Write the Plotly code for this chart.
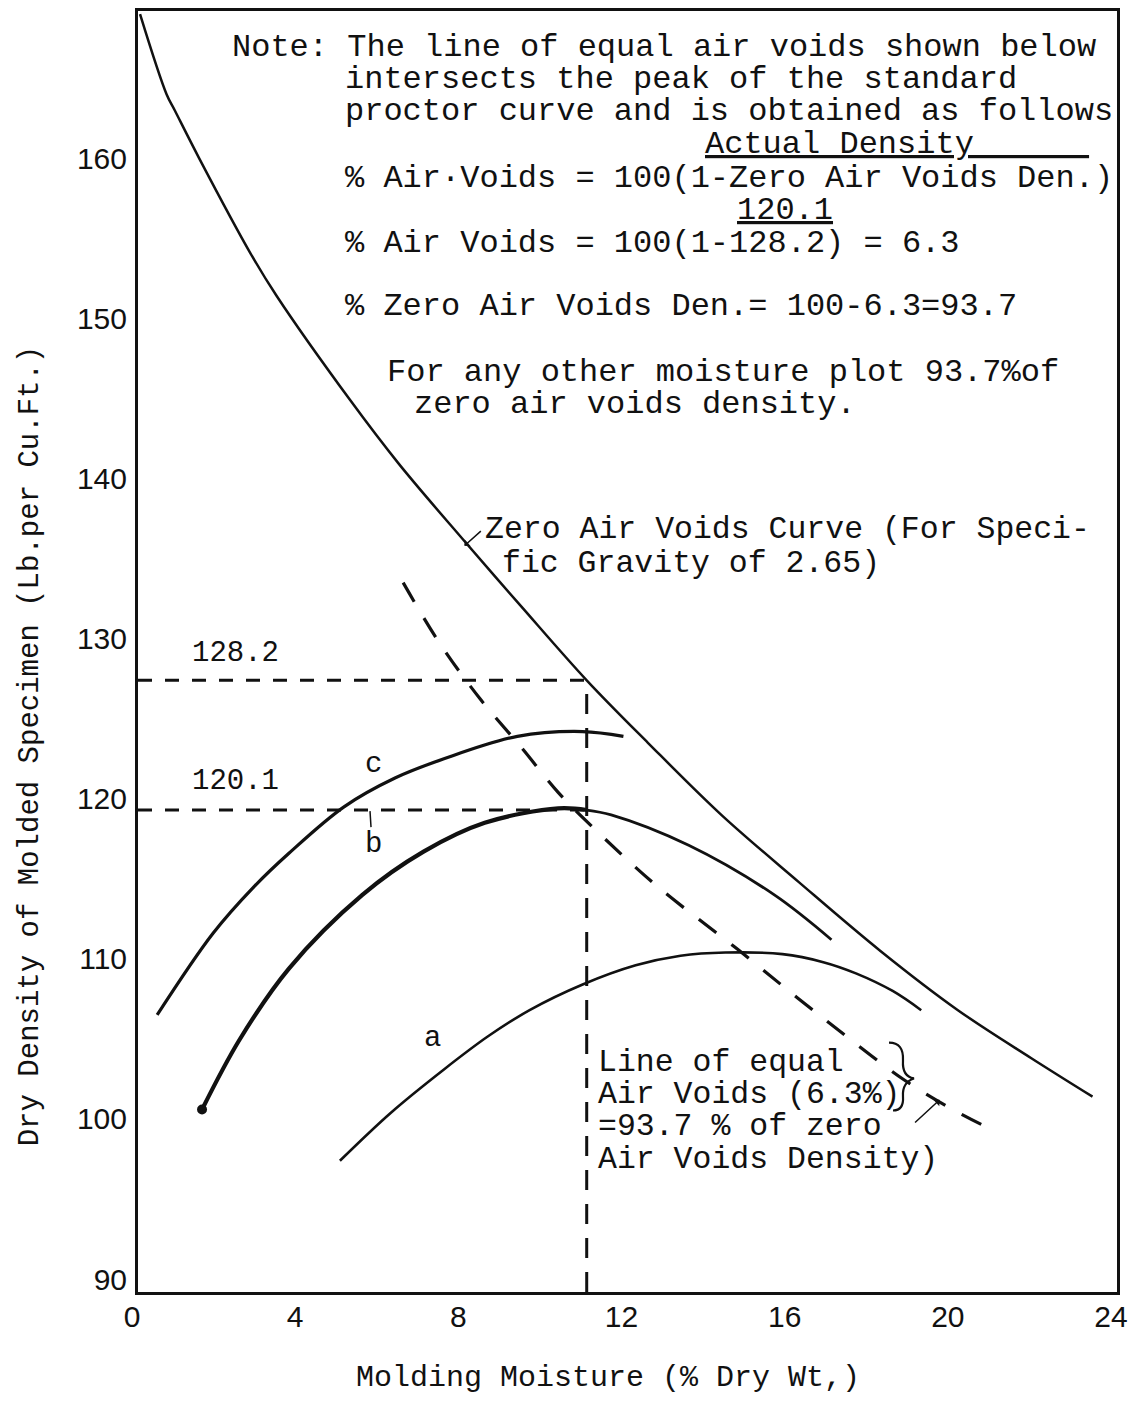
import plotly.graph_objects as go

# Zero air voids curve (Gs = 2.65)
zav_x = [0.05, 0.7, 0.9, 1.5, 2.75, 3.4, 5.2, 6.4, 8.0, 9.4, 11.0, 12.5, 14.3, 16.2, 18.2, 20.1, 21.9, 23.4]
zav_y = [169.8, 164.8, 163.8, 160.8, 154.9, 152.2, 145.7, 141.7, 136.9, 132.8, 128.2, 124.3, 119.8, 115.6, 111.3, 107.6, 104.6, 102.2]

# Compaction curves a, b, c
c_x = [0.47, 1.84, 2.84, 3.7, 5.05, 6.3, 7.5, 9.3, 10.9, 11.9]
c_y = [107.3, 112.4, 115.3, 117.4, 120.3, 122.1, 123.3, 124.7, 125.0, 124.7]

b_x = [1.57, 2.5, 3.7, 5.5, 7.0, 8.5, 10.3, 11.0, 11.6, 13.5, 15.6, 17.0]
b_y = [101.4, 105.8, 110.2, 114.8, 117.5, 119.3, 120.2, 120.1, 119.8, 117.9, 114.8, 112.0]

a_x = [4.95, 6.2, 7.5, 8.6, 9.6, 10.9, 12.2, 13.3, 14.4, 15.8, 16.8, 17.6, 18.5, 19.2]
a_y = [98.2, 101.2, 103.9, 106.0, 107.6, 109.2, 110.4, 111.0, 111.2, 111.1, 110.6, 109.9, 108.8, 107.6]

# Line of equal air voids (6.3%)
eav_x = [6.5, 7.4, 8.4, 9.4, 10.3, 11.2, 12.7, 14.7, 16.2, 17.4, 18.75, 19.9, 20.8]
eav_y = [134.3, 130.5, 127.0, 124.0, 121.2, 118.9, 115.4, 111.4, 108.3, 105.9, 103.3, 101.5, 100.3]

# Reference values at the peak of the standard proctor curve
peak_moisture = 11.0
peak_density = 120.1
zav_density = 128.2

x_ticks = [0, 4, 8, 12, 16, 20, 24]
y_ticks = [90, 100, 110, 120, 130, 140, 150, 160]

INK = "#111111"
MONO = "Liberation Mono, Courier New, monospace"
SANS = "Liberation Sans, Arial, sans-serif"

# plot area on the page, in pixels (page has an 8px body margin)
PL, PR, PT, PB = 138, 1117, 8, 1292


def px2paper(px, py):
    return (px - PL) / (PR - PL), (PB - py) / (PB - PT)


fig = go.Figure()

# guide lines to the peak
fig.add_trace(go.Scatter(
    x=[0, peak_moisture], y=[zav_density, zav_density], mode="lines",
    line=dict(color=INK, width=3, dash="14px,13px"), hoverinfo="skip"))
fig.add_trace(go.Scatter(
    x=[0, peak_moisture], y=[peak_density, peak_density], mode="lines",
    line=dict(color=INK, width=3, dash="14px,13px"), hoverinfo="skip"))
fig.add_trace(go.Scatter(
    x=[peak_moisture, peak_moisture], y=[90, zav_density], mode="lines",
    line=dict(color=INK, width=3, dash="20px,14px"), hoverinfo="skip"))

# zero air voids curve
fig.add_trace(go.Scatter(
    x=zav_x, y=zav_y, mode="lines", line_shape="spline",
    line=dict(color=INK, width=2.5)))

# equal air voids line
fig.add_trace(go.Scatter(
    x=eav_x, y=eav_y, mode="lines", line_shape="spline",
    line=dict(color=INK, width=3.2, dash="22px,19px")))

# curves
fig.add_trace(go.Scatter(
    x=c_x, y=c_y, mode="lines", line_shape="spline",
    line=dict(color=INK, width=3.2)))
fig.add_trace(go.Scatter(
    x=b_x[:8], y=b_y[:8], mode="lines", line_shape="spline",
    line=dict(color=INK, width=4.2)))
fig.add_trace(go.Scatter(
    x=b_x[7:], y=b_y[7:], mode="lines", line_shape="spline",
    line=dict(color=INK, width=2.8)))
fig.add_trace(go.Scatter(
    x=b_x[:1], y=b_y[:1], mode="markers",
    marker=dict(color=INK, size=10)))
fig.add_trace(go.Scatter(
    x=a_x, y=a_y, mode="lines", line_shape="spline",
    line=dict(color=INK, width=2.6)))


def note(px, py, text, size=32, font=MONO, anchor="left"):
    # place text by page pixel position
    x, y = px2paper(px, py)
    fig.add_annotation(
        x=x, y=y, xref="paper", yref="paper",
        text=text, showarrow=False, xanchor=anchor, yanchor="middle",
        font=dict(family=font, size=size, color=INK))


note(230, 45, "Note: The line of equal air voids shown below")
note(343, 77, "intersects the peak of the standard")
note(343, 109, "proctor curve and is obtained as follows")
note(703, 142, "<u>Actual Density" + "\u00a0" * 6 + "</u>")
note(343, 176, "% Air·Voids = 100(1-Zero Air Voids Den.)")
note(735, 208, "<u>120.1</u>")
note(343, 241, "% Air Voids = 100(1-128.2) = 6.3")
note(343, 304, "% Zero Air Voids Den.= 100-6.3=93.7")
note(385, 370, "For any other moisture plot 93.7%of")
note(412, 402, "zero air voids density.")

note(483, 528, "Zero Air Voids Curve (For Speci-", size=31.5)
note(500, 562, "fic Gravity of 2.65)", size=31.5)

note(190, 652, "128.2", size=29)
note(190, 780, "120.1", size=29)
note(373, 763, "c", size=29, anchor="center")
note(373, 843, "b", size=29, anchor="center")
note(432, 1038, "a", size=29, anchor="center")

note(596, 1062, "Line of equal", size=31.5)
note(596, 1094, "Air Voids (6.3%)", size=31.5)
note(596, 1126, "=93.7 % of zero", size=31.5)
note(596, 1159, "Air Voids Density)", size=31.5)


def path(points):
    pts = [px2paper(px, py) for px, py in points]
    d = "M {:.4f},{:.4f}".format(*pts[0])
    for i in range(1, len(pts) - 1, 2):
        d += " Q {:.4f},{:.4f} {:.4f},{:.4f}".format(*pts[i], *pts[i + 1])
    return d


# curly brace next to the label
fig.add_shape(
    type="path", xref="paper", yref="paper",
    path=path([(889, 1042), (904, 1042), (903, 1060), (902, 1076), (914, 1078),
               (902, 1082), (903, 1096), (904, 1110), (893, 1110)]),
    line=dict(color=INK, width=2.2))
# small tick above "b"
fig.add_shape(
    type="line", xref="paper", yref="paper",
    x0=px2paper(370, 810)[0], y0=px2paper(370, 810)[1],
    x1=px2paper(371, 826)[0], y1=px2paper(371, 826)[1],
    line=dict(color=INK, width=1.5))

# small arrow to the zero air voids curve
fig.add_annotation(
    x=8.0, y=136.6, ax=18, ay=-16, text="", showarrow=True,
    arrowhead=1, arrowsize=1, arrowwidth=1.5, arrowcolor=INK)
# arrow from the brace to the dashed line
fig.add_annotation(
    x=19.65, y=102.0, ax=-26, ay=24, text="", showarrow=True,
    arrowhead=1, arrowsize=1, arrowwidth=1.5, arrowcolor=INK)

# axis titles
note(608, 1378, "Molding Moisture (% Dry Wt,)", size=30, anchor="center")
tx, ty = px2paper(30, 745)
fig.add_annotation(
    x=tx, y=ty, xref="paper", yref="paper",
    text="Dry Density of Molded Specimen (Lb.per Cu.Ft.)", textangle=-90,
    showarrow=False, xanchor="center", yanchor="middle",
    font=dict(family=MONO, size=29, color=INK))

fig.update_xaxes(
    range=[0, 24], tickvals=x_ticks, showgrid=False, zeroline=False,
    showline=True, mirror=True, linecolor=INK, linewidth=3, ticks="",
    ticklabelshift=-6, ticklabelstandoff=-4,
    tickfont=dict(family=SANS, size=30, color=INK))
fig.update_yaxes(
    range=[90, 170], tickvals=y_ticks, showgrid=False, zeroline=False,
    showline=True, mirror=True, linecolor=INK, linewidth=3, ticks="",
    ticklabelshift=-13, ticklabelstandoff=2,
    tickfont=dict(family=SANS, size=30, color=INK))

fig.update_layout(
    width=1130, height=1395,
    margin=dict(l=130, r=21, t=0, b=111),
    paper_bgcolor="white", plot_bgcolor="white",
    showlegend=False,
)

fig.write_html("out.html")
